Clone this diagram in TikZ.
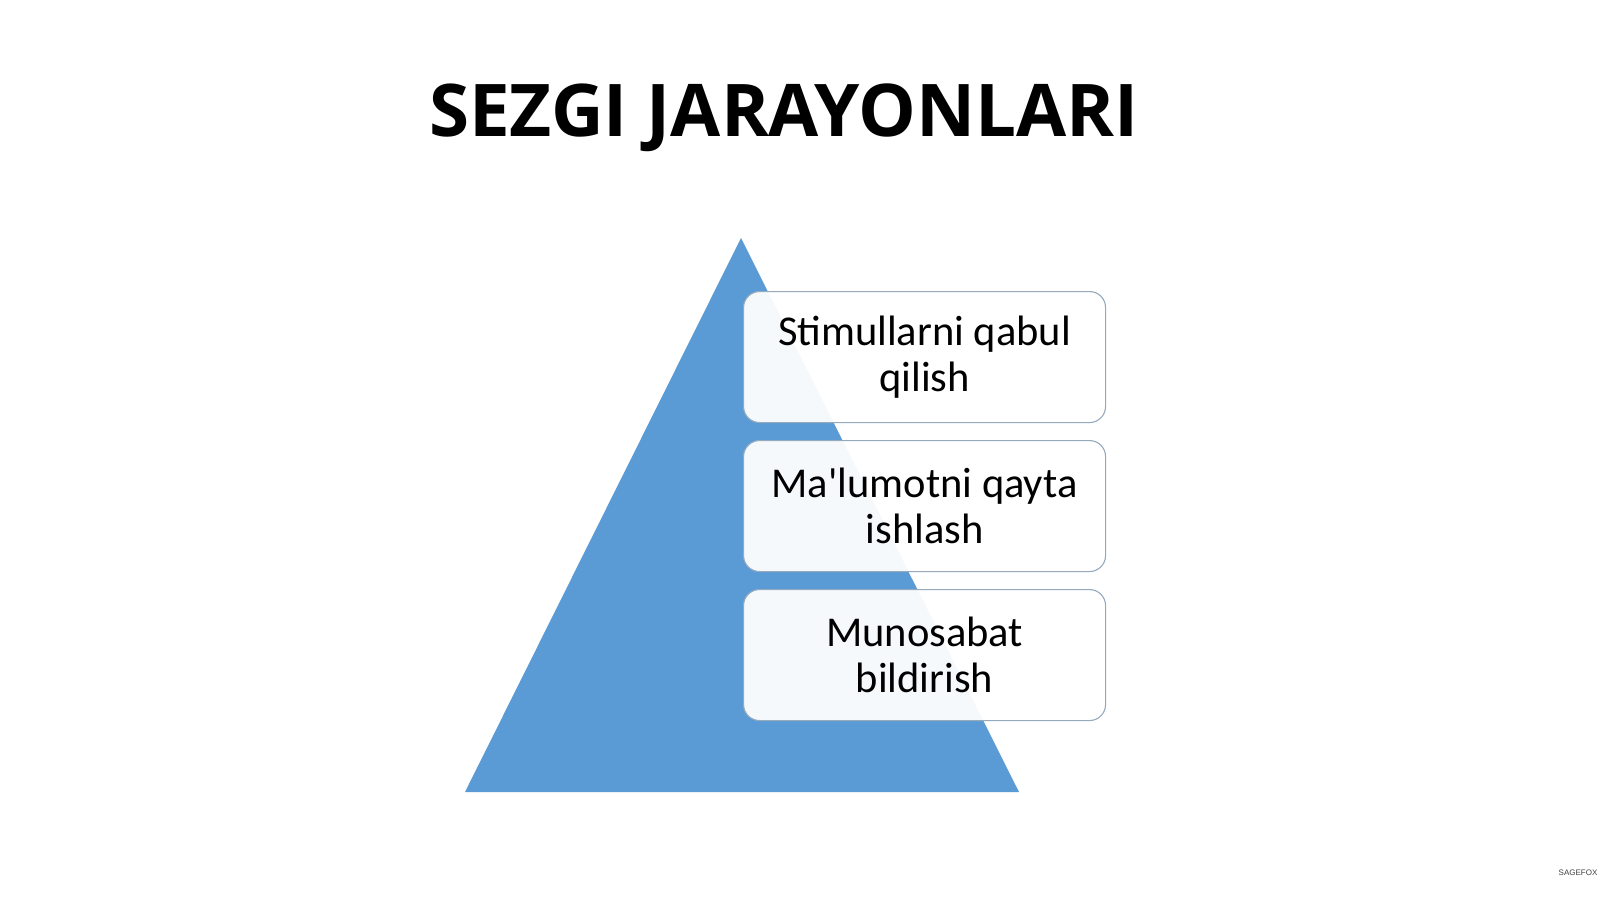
\documentclass[tikz,border=0pt]{standalone}
\usepackage{fontspec}
\setmainfont{Carlito}[Ligatures=TeXOff]
\newfontfamily\titlefont{Open Sans}
\newfontfamily\smallfont{Liberation Sans}
\definecolor{triblue}{RGB}{91,155,213}
\definecolor{boxline}{RGB}{150,170,190}
\begin{document}
\begin{tikzpicture}[x=1pt,y=-1pt,
  stepbox/.style={draw=boxline, line width=1.1pt, fill=white, fill opacity=0.94, text opacity=1,
    rounded corners=16pt, minimum width=362pt, minimum height=131pt, anchor=north west,
    align=center, font=\fontsize{42.5}{46.5}\selectfont, inner sep=0pt},
  tri/.style={fill=triblue, draw=none}]
\useasboundingbox (0,0) rectangle (1600,899);
\fill[white] (0,0) rectangle (1600,899);
\node[font=\titlefont\bfseries\fontsize{72.7}{80}\selectfont, anchor=base] (title) at (784,136) {SEZGI JARAYONLARI};
\coordinate (apex) at (741,238);
\coordinate (bl) at (465,792);
\coordinate (br) at (1019,792);
\fill[triblue] (apex) -- (br) -- (bl) -- cycle;
\node[stepbox] (b1) at (743,291) {Stimullarni qabul\\qilish};
\node[stepbox] (b2) at (743,440) {Ma'lumotni qayta\\ishlash};
\node[stepbox] (b3) at (743,589) {Munosabat\\bildirish};
\node[font=\smallfont\fontsize{8}{9}\selectfont, text=black!75] (sf) at (1578,873) {SAGEFOX};
\end{tikzpicture}
\end{document}
